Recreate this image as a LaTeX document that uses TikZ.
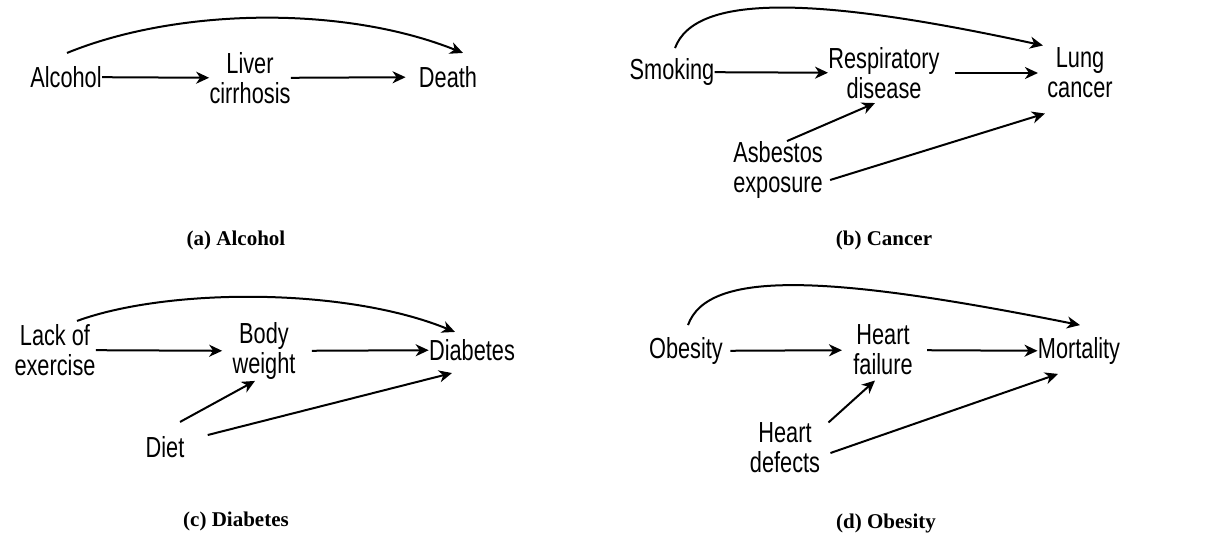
\documentclass[tikz,border=0pt]{standalone}
\usepackage{fontspec}
\usetikzlibrary{arrows.meta}
\newfontfamily\varfont{Liberation Sans}[FakeStretch=0.75]
\newfontfamily\capfont{Liberation Serif}

\begin{document}
\begin{tikzpicture}[
    x=0.5pt, y=-0.5pt,
    var/.style={
        align=center,
        inner sep=0pt,
        font=\varfont\fontsize{14.5}{15}\selectfont
    },
    capt/.style={
        inner sep=0pt,
        font=\capfont\bfseries\fontsize{10.5}{12}\selectfont
    },
    arrow/.style={
        -{Stealth[length=6.5pt, width=6pt, inset=2pt]},
        line width=1pt
    }
]
\useasboundingbox (0,0) rectangle (1205,540);

% (a)
\node[var] (alcohol) at (66,77) {Alcohol};
\node[var] (liver) at (250,78) {Liver\\cirrhosis};
\node[var] (death) at (448,77) {Death};
\node[capt] (capa) at (236,240) {(a) Alcohol};

\draw[arrow] (alcohol) -- (liver);
\draw[arrow, shorten >=6.5pt] (liver) -- (death);
\draw[arrow] ([xshift=0.5pt, yshift=6.5pt]alcohol.north) .. controls +(110,-45) and +(-120,-48) .. ([xshift=7.5pt, yshift=6.5pt]death.north);

% (b)
\node[var] (smoking) at (672,72) {Smoking};
\node[var] (resp) at (884,73) {Respiratory\\disease};
\node[var] (lung) at (1080,73) {Lung\\cancer};
\node[var] (asbestos) at (778,170) {Asbestos\\exposure};
\node[capt] (capb) at (884,240) {(b) Cancer};

\draw[arrow] (smoking) -- (resp);
\draw[arrow, shorten <=7.5pt, shorten >=4.5pt] (resp) -- (lung);
\draw[arrow] ([xshift=4.5pt]asbestos.north) -- ([xshift=-4.5pt, yshift=-2pt]resp.south);
\draw[arrow] ([xshift=3.5pt, yshift=-5pt]asbestos.east) -- ([xshift=-1pt, yshift=-7.5pt]lung.south west);
\draw[arrow] ([xshift=1.5pt, yshift=5pt]smoking.north) .. controls +(20,-54) and +(-230,-50) .. ([xshift=-2pt, yshift=1pt]lung.north west);

% (c)
\node[var] (exercise) at (55,350) {Lack of\\exercise};
\node[var] (weight) at (264,351) {Body\\weight};
\node[var] (diabetes) at (472,350) {Diabetes};
\node[var] (diet) at (165,447) {Diet};
\node[capt] (capc) at (236,521) {(c) Diabetes};

\draw[arrow, shorten >=5pt] (exercise) -- (weight);
\draw[arrow, shorten <=8pt] (weight) -- (diabetes);
\draw[arrow] ([xshift=7.5pt, yshift=7pt]diet.north) -- ([xshift=-4.5pt, yshift=-0.5pt]weight.south);
\draw[arrow] ([xshift=11.5pt, yshift=6pt]diet.east) -- ([xshift=-10pt, yshift=-6pt]diabetes.south);
\draw[arrow] ([xshift=11pt, yshift=1.5pt]exercise.north) .. controls +(90,-33) and +(-110,-45) .. ([xshift=-8.5pt, yshift=3.5pt]diabetes.north);

% (d)
\node[var] (obesity) at (686,351) {Obesity};
\node[var] (failure) at (883,350) {Heart\\failure};
\node[var] (mortality) at (1079,351) {Mortality};
\node[var] (defects) at (785,448) {Heart\\defects};
\node[capt] (capd) at (886,523) {(d) Obesity};

\draw[arrow, shorten <=3.5pt, shorten >=5.5pt] (obesity) -- (failure);
\draw[arrow, shorten <=7pt] (failure) -- (mortality);
\draw[arrow] ([xshift=4pt]defects.north east) -- ([xshift=-4pt, yshift=-2.5pt]failure.south);
\draw[arrow] ([xshift=5pt, yshift=-2.5pt]defects.east) -- ([xshift=-10.5pt, yshift=-4.5pt]mortality.south);
\draw[arrow] ([xshift=1pt, yshift=6pt]obesity.north) .. controls +(20,-56) and +(-250,-50) .. ([xshift=0.5pt, yshift=6pt]mortality.north);

\end{tikzpicture}
\end{document}
